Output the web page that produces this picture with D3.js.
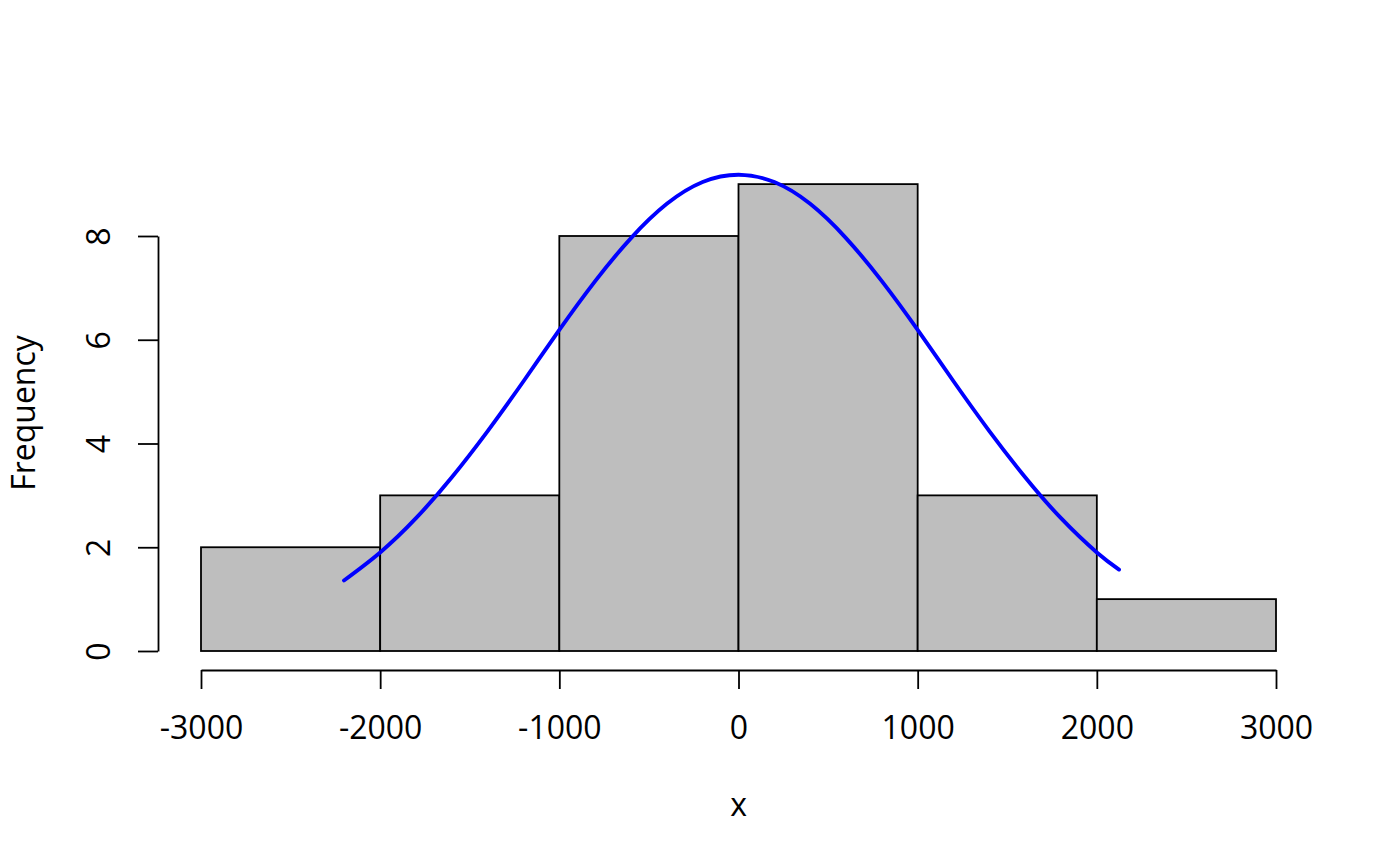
<!DOCTYPE html>
<html lang="en">
<head>
<meta charset="utf-8">
<title>Histogram of x</title>
<script src="https://cdnjs.cloudflare.com/ajax/libs/d3/7.8.5/d3.min.js"></script>
<style>
  body { margin: 0; background: #fff; }
  svg { display: block; }
  text { font-family: "Open Sans", "Noto Sans", sans-serif; fill: #000; }
</style>
</head>
<body>
<svg id="chart" width="1400" height="866"></svg>
<script>
// histogram bins (breaks) and counts
var breaks = [-3000, -2000, -1000, 0, 1000, 2000, 3000];
var counts = [2, 3, 8, 9, 3, 1];

// fitted curve
var curveX = [-2202, -2000, -1800, -1600, -1400, -1200, -1000, -800, -600, -400, -200, 0,
              200, 400, 600, 800, 1000, 1200, 1400, 1600, 1800, 2000, 2124];
var curveY = [1.36, 1.90, 2.56, 3.35, 4.24, 5.20, 6.19, 7.13, 7.96, 8.62, 9.04, 9.18,
              9.04, 8.62, 7.96, 7.13, 6.19, 5.20, 4.24, 3.35, 2.56, 1.90, 1.57];

var xTicks = [-3000, -2000, -1000, 0, 1000, 2000, 3000];
var yTicks = [0, 2, 4, 6, 8];

var svg = d3.select("#chart");
var fs = 32;

// plot region like R: usr extended 4% past the bins
var x = d3.scaleLinear().domain([-3240, 3240]).range([158, 1319]);
var y = d3.scaleLinear().domain([0, 8]).range([651, 236]);

var bins = counts.map(function (c, i) { return { x0: breaks[i], x1: breaks[i + 1], n: c }; });

svg.append("g").selectAll("rect")
  .data(bins)
  .enter()
  .append("rect")
    .attr("x", d => x(d.x0))
    .attr("y", d => y(d.n))
    .attr("width", d => x(d.x1) - x(d.x0))
    .attr("height", d => y(0) - y(d.n))
    .attr("fill", "#bebebe")
    .attr("stroke", "#000")
    .attr("stroke-width", 1.8);

// curve
var pts = curveX.map((v, i) => [v, curveY[i]]);
svg.append("path")
  .datum(pts)
  .attr("fill", "none")
  .attr("stroke", "#0000ff")
  .attr("stroke-width", 3.9)
  .attr("stroke-linecap", "round")
  .attr("d", d3.line().x(d => x(d[0])).y(d => y(d[1])).curve(d3.curveNatural));

// x axis (only spans the tick range, R style)
var xa = d3.scaleLinear().domain([-3000, 3000]).range([x(-3000), x(3000)]);
var gx = svg.append("g")
  .attr("transform", "translate(0,670)")
  .call(d3.axisBottom(xa).tickValues(xTicks).tickSize(19).tickSizeOuter(0).tickFormat(d3.format("d")));
gx.selectAll("path, line").attr("stroke", "#000").attr("stroke-width", 1.8);
gx.selectAll("text")
  .attr("y", 69).attr("dy", null)
  .style("font-size", fs + "px")
  .style("font-family", "'Open Sans', sans-serif")
  .text(d => d < 0 ? "-" + Math.abs(d) : d);

// y axis
var gy = svg.append("g")
  .attr("transform", "translate(158,0)")
  .call(d3.axisLeft(y).tickValues(yTicks).tickSize(20).tickSizeOuter(0));
gy.selectAll("path, line").attr("stroke", "#000").attr("stroke-width", 1.8);
gy.selectAll("text").remove();
gy.selectAll(".tick").append("text")
  .attr("transform", "translate(-48,0) rotate(-90)")
  .attr("text-anchor", "middle")
  .style("font-size", fs + "px")
  .style("font-family", "'Open Sans', sans-serif")
  .text(d => d);

// axis titles
svg.append("text")
  .attr("x", 738.5).attr("y", 816)
  .attr("text-anchor", "middle")
  .style("font-size", fs + "px")
  .text("x");

svg.append("text")
  .attr("transform", "translate(35,413) rotate(-90)")
  .attr("text-anchor", "middle")
  .style("font-size", fs + "px")
  .text("Frequency");
</script>
</body>
</html>
